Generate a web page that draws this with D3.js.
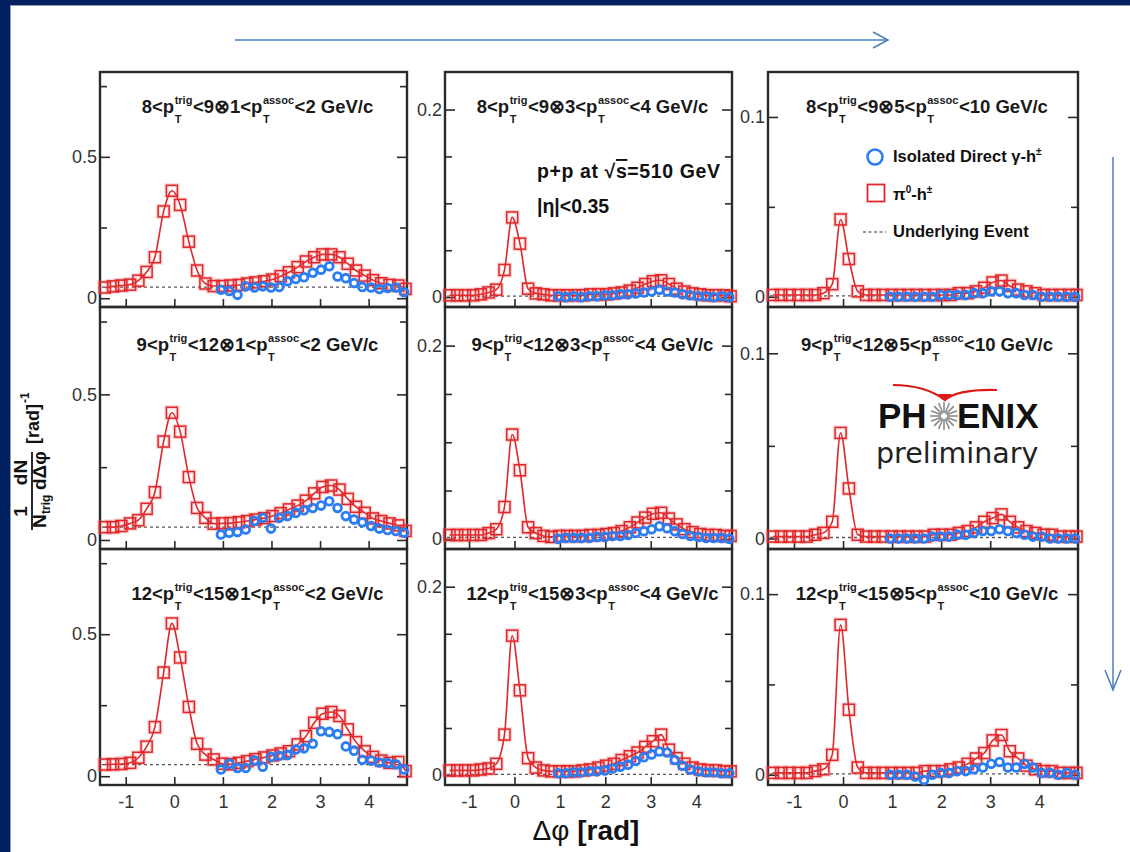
<!DOCTYPE html>
<html><head><meta charset="utf-8">
<script src="https://cdn.jsdelivr.net/npm/d3@7"></script>
<style>
html,body{margin:0;padding:0;background:#fff;}
svg{display:block;}
text{font-family:"Liberation Sans",Arial,Helvetica,sans-serif;white-space:pre;}
</style></head><body>
<svg id="chart" width="1130" height="852"></svg>
<script>
// ---------------- data ----------------
const phiPi0 = [-1.43,-1.26,-1.09,-0.91,-0.74,-0.57,-0.40,-0.22,-0.05,0.12,0.30,0.47,0.64,0.81,0.99,1.16,1.33,1.50,1.67,1.85,2.02,2.19,2.36,2.54,2.71,2.88,3.05,3.23,3.40,3.57,3.74,3.92,4.09,4.26,4.43,4.61,4.76];
const phiGamma = [0.96,1.13,1.30,1.47,1.65,1.82,1.99,2.16,2.33,2.50,2.67,2.85,3.02,3.19,3.36,3.53,3.70,3.87,4.05,4.22,4.39,4.56,4.73];

const pi0_r1c1 = [0.038,0.042,0.045,0.048,0.062,0.093,0.145,0.307,0.380,0.330,0.200,0.098,0.052,0.043,0.043,0.045,0.047,0.052,0.056,0.060,0.066,0.078,0.092,0.110,0.130,0.145,0.155,0.155,0.145,0.122,0.098,0.080,0.064,0.053,0.047,0.045,0.033];
const pi0_r1c2 = [0.002,0.002,0.002,0.002,0.003,0.005,0.008,0.029,0.085,0.057,0.009,0.004,0.003,0.002,0.002,0.002,0.002,0.002,0.003,0.003,0.003,0.004,0.005,0.007,0.010,0.014,0.017,0.018,0.014,0.009,0.006,0.004,0.003,0.002,0.002,0.002,0.001];
const pi0_r1c3 = [0.001,0.001,0.001,0.001,0.001,0.001,0.002,0.007,0.043,0.021,0.003,0.001,0.001,0.001,0.001,0.001,0.001,0.001,0.001,0.001,0.001,0.001,0.002,0.002,0.003,0.005,0.008,0.009,0.006,0.004,0.003,0.002,0.001,0.001,0.001,0.001,0.001];
const pi0_r2c1 = [0.044,0.044,0.048,0.057,0.068,0.107,0.164,0.338,0.437,0.372,0.216,0.110,0.076,0.056,0.057,0.058,0.061,0.065,0.070,0.075,0.082,0.092,0.105,0.118,0.135,0.160,0.182,0.187,0.173,0.141,0.114,0.093,0.074,0.065,0.057,0.050,0.031];
const pi0_r2c2 = [0.004,0.004,0.004,0.004,0.004,0.006,0.010,0.033,0.108,0.071,0.012,0.006,0.003,0.002,0.003,0.003,0.003,0.003,0.004,0.004,0.005,0.006,0.008,0.012,0.017,0.022,0.026,0.027,0.021,0.015,0.010,0.007,0.005,0.004,0.004,0.003,0.003];
const pi0_r2c3 = [0.001,0.001,0.001,0.001,0.001,0.002,0.003,0.009,0.057,0.027,0.002,0.001,0.001,0.001,0.001,0.001,0.001,0.001,0.001,0.002,0.002,0.002,0.003,0.004,0.006,0.009,0.011,0.013,0.009,0.006,0.004,0.003,0.002,0.002,0.001,0.001,0.001];
const pi0_r3c1 = [0.041,0.042,0.043,0.047,0.065,0.104,0.173,0.365,0.538,0.418,0.244,0.114,0.076,0.059,0.044,0.042,0.047,0.053,0.060,0.066,0.073,0.080,0.088,0.112,0.141,0.188,0.220,0.226,0.212,0.165,0.120,0.088,0.068,0.055,0.047,0.050,0.018];
const pi0_r3c2 = [0.005,0.005,0.005,0.005,0.006,0.007,0.012,0.043,0.148,0.090,0.018,0.008,0.005,0.004,0.004,0.004,0.004,0.005,0.006,0.008,0.010,0.012,0.016,0.020,0.024,0.030,0.036,0.043,0.027,0.018,0.012,0.008,0.006,0.005,0.005,0.004,0.004];
const pi0_r3c3 = [0.001,0.001,0.001,0.001,0.001,0.002,0.003,0.011,0.083,0.036,0.004,0.001,0.001,0.001,0.001,0.001,0.001,0.001,0.002,0.002,0.002,0.003,0.004,0.006,0.009,0.012,0.019,0.022,0.013,0.009,0.005,0.003,0.002,0.002,0.001,0.001,0.001];

const gam_r1c1 = [0.030,0.026,0.012,0.042,0.038,0.042,0.038,0.040,0.060,0.068,0.074,0.090,0.101,0.113,0.077,0.071,0.054,0.040,0.038,0.033,0.036,0.038,0.021];
const gam_r1c2 = [0.001,0.000,0.001,0.000,0.001,0.001,0.002,0.002,0.003,0.003,0.004,0.005,0.006,0.008,0.006,0.005,0.003,0.002,0.001,0.001,0.000,0.001,0.000];
const gam_r1c3 = [0.000,0.000,0.000,0.000,0.000,0.000,0.001,0.001,0.001,0.001,0.002,0.002,0.003,0.003,0.002,0.002,0.001,0.001,0.000,0.000,0.000,0.000,0.000];
const gam_r2c1 = [0.019,0.025,0.027,0.036,0.065,0.076,0.039,0.076,0.082,0.093,0.102,0.110,0.118,0.133,0.110,0.082,0.070,0.061,0.048,0.039,0.034,0.031,0.025];
const gam_r2c2 = [0.000,0.001,0.001,0.001,0.001,0.002,0.002,0.003,0.003,0.004,0.006,0.008,0.010,0.013,0.011,0.008,0.005,0.003,0.002,0.001,0.001,0.001,0.000];
const gam_r2c3 = [0.000,0.000,0.000,0.000,0.000,0.001,0.001,0.001,0.002,0.002,0.003,0.004,0.004,0.005,0.004,0.003,0.002,0.001,0.001,0.000,0.000,0.000,0.000];
const gam_r3c1 = [0.024,0.044,0.029,0.029,0.055,0.033,0.068,0.072,0.075,0.094,0.098,0.114,0.158,0.156,0.148,0.105,0.090,0.058,0.055,0.048,0.046,0.042,0.024];
const gam_r3c2 = [0.002,0.002,0.003,0.003,0.004,0.004,0.005,0.007,0.009,0.011,0.015,0.019,0.022,0.025,0.024,0.016,0.010,0.006,0.004,0.003,0.003,0.002,0.002];
const gam_r3c3 = [0.000,0.000,0.000,-0.001,-0.003,0.000,0.001,0.001,0.002,0.002,0.003,0.004,0.006,0.007,0.004,0.004,0.006,0.004,0.001,0.001,0.000,0.001,0.000];

const underlyingEvent = [[0.039,0.001,0.0005],[0.044,0.0015,0.0005],[0.041,0.0008,0.0005]];

const trigLo = ["8","9","12"], trigHi = ["9","12","15"];
const assocLo = ["1","3","5"], assocHi = ["2","4","10"];
const xTicks = [-1,0,1,2,3,4];
const xDomain = [-1.53, 4.79];
const yDomains = [[-0.031,0.80],[-0.0105,0.24],[-0.0057,0.125]];
const yTicks = [[0,0.25,0.5,0.75],[0,0.05,0.1,0.15,0.2],[0,0.05,0.1]];
const yLabeled = [[0,0.5],[0,0.2],[0,0.1]];
const legendLabels = ["Isolated Direct γ-h", "π", "Underlying Event"];

const pi0Grid = [[pi0_r1c1,pi0_r1c2,pi0_r1c3],[pi0_r2c1,pi0_r2c2,pi0_r2c3],[pi0_r3c1,pi0_r3c2,pi0_r3c3]];
const gamGrid = [[gam_r1c1,gam_r1c2,gam_r1c3],[gam_r2c1,gam_r2c2,gam_r2c3],[gam_r3c1,gam_r3c2,gam_r3c3]];

// ---------------- layout ----------------
const RED = "#e0262a", BLUE = "#2a7df2", FRAME = "#2a2a2a", NAVY = "#002060", ARROW = "#4a7ebb";
const cols = [{x0:100,x1:407},{x0:445,x1:732},{x0:768,x1:1078}];
const rows = [{y0:72,y1:307},{y0:307,y1:549},{y0:549,y1:785}];
const titleOff = [41, 44, 51];

const svg = d3.select("#chart");
svg.append("rect").attr("width",1130).attr("height",852).attr("fill","#fff");
svg.append("rect").attr("width",1130).attr("height",5).attr("fill",NAVY);
svg.append("rect").attr("width",10).attr("height",852).attr("fill",NAVY);
svg.append("line").attr("x1",10.5).attr("x2",10.5).attr("y1",5).attr("y2",852).attr("stroke","#8e9cc0").attr("stroke-width",1);
svg.append("line").attr("x1",10).attr("x2",1130).attr("y1",5.5).attr("y2",5.5).attr("stroke","#8e9cc0").attr("stroke-width",1);

function richText(parent, cx, y, parts, o) {
  const grp = parent.append("g");
  let pos = 0;
  parts.forEach(p => {
    if (p.t !== undefined) {
      const el = grp.append("text").attr("x",pos).attr("y",0).attr("font-size",o.size).attr("font-weight",o.weight).attr("fill",o.fill).text(p.t);
      pos += el.node().getComputedTextLength();
    } else {
      let w = 0;
      if (p.sup) { const e = grp.append("text").attr("x",pos+0.5).attr("y",-o.supDy).attr("font-size",o.small).attr("font-weight",o.weight).attr("fill",o.fill).text(p.sup); w = Math.max(w, e.node().getComputedTextLength()+1); }
      if (p.sub) { const e = grp.append("text").attr("x",pos+0.5).attr("y",o.subDy).attr("font-size",o.small).attr("font-weight",o.weight).attr("fill",o.fill).text(p.sub); w = Math.max(w, e.node().getComputedTextLength()+1); }
      pos += w;
    }
  });
  const x0 = o.anchor === "start" ? cx : cx - pos/2;
  grp.attr("transform",`translate(${x0},${y})`);
  return pos;
}

function styleAxis(ax) {
  ax.select(".domain").remove();
  ax.attr("font-size",18);
  ax.selectAll("line").attr("stroke",FRAME).attr("stroke-width",1.6);
  ax.selectAll("text").attr("fill","#333");
}

rows.forEach((R, ri) => cols.forEach((C, ci) => {
  const x = d3.scaleLinear().domain(xDomain).range([C.x0, C.x1]);
  const y = d3.scaleLinear().domain(yDomains[ci]).range([R.y1, R.y0]);
  const g = svg.append("g");
  const lab = yLabeled[ci];

  g.append("rect").attr("x",C.x0).attr("y",R.y0).attr("width",C.x1-C.x0).attr("height",R.y1-R.y0)
    .attr("fill","none").attr("stroke",FRAME).attr("stroke-width",2.4);

  const axL = g.append("g").attr("transform",`translate(${C.x0},0)`)
    .call(d3.axisLeft(y).tickValues(yTicks[ci]).tickSize(-10).tickPadding(3).tickFormat(d => lab.includes(d) ? String(d) : ""));
  styleAxis(axL);
  axL.selectAll(".tick").filter(d => !lab.includes(d)).select("line").attr("x2",7);

  const axR = g.append("g").attr("transform",`translate(${C.x1},0)`)
    .call(d3.axisRight(y).tickValues(yTicks[ci]).tickSize(-10).tickFormat(""));
  styleAxis(axR);
  axR.selectAll(".tick").filter(d => !lab.includes(d)).select("line").attr("x2",-7);

  const axB = g.append("g").attr("transform",`translate(0,${R.y1})`)
    .call(d3.axisBottom(x).tickValues(xTicks).tickSize(-8).tickPadding(10).tickFormat(d => ri === 2 ? String(d) : ""));
  styleAxis(axB);

  // underlying event
  const ue = underlyingEvent[ri][ci];
  g.append("line").attr("x1",x(xDomain[0])+2).attr("x2",x(xDomain[1])-2).attr("y1",y(ue)).attr("y2",y(ue))
    .attr("stroke","#555").attr("stroke-width",1.3).attr("stroke-dasharray","3,3");

  const red = d3.zip(phiPi0, pi0Grid[ri][ci]);
  const blue = d3.zip(phiGamma, gamGrid[ri][ci]);

  g.append("path").datum(red)
    .attr("d", d3.line().x(d => x(d[0])).y(d => y(d[1])).curve(d3.curveMonotoneX))
    .attr("fill","none").attr("stroke",RED).attr("stroke-width",1.6);

  g.selectAll("rect.halo").data(red).join("rect").attr("class","halo")
    .attr("x", d => x(d[0]) - 5.5).attr("y", d => y(d[1]) - 5.5).attr("width",11).attr("height",11)
    .attr("fill","none").attr("stroke","rgba(235,90,90,0.25)").attr("stroke-width",4);
  g.selectAll("rect.sq").data(red).join("rect").attr("class","sq")
    .attr("x", d => x(d[0]) - 5.5).attr("y", d => y(d[1]) - 5.5).attr("width",11).attr("height",11)
    .attr("fill","none").attr("stroke",RED).attr("stroke-width",1.5);

  g.selectAll("circle.ci").data(blue).join("circle").attr("class","ci")
    .attr("cx", d => x(d[0])).attr("cy", d => y(d[1])).attr("r",3.9)
    .attr("fill","none").attr("stroke",BLUE).attr("stroke-width",2.8);

  // panel title
  richText(g, (C.x0 + C.x1)/2 + 4, R.y0 + titleOff[ri],
    [{t: trigLo[ri] + "<p"}, {sup:"trig", sub:"T"}, {t: "<" + trigHi[ri] + "⊗" + assocLo[ci] + "<p"}, {sup:"assoc", sub:"T"}, {t: "<" + assocHi[ci] + " GeV/c"}],
    {size:18.5, small:11, weight:"bold", fill:"#1a1a1a", supDy:9.5, subDy:9.5, anchor:"middle"});
}));

// ---------------- annotations ----------------
const ann = svg.append("g");
ann.append("text").attr("x",537).attr("y",178).attr("font-size",19.5).attr("font-weight","bold").attr("fill","#111").attr("letter-spacing",0.6)
  .html('p+p at √<tspan text-decoration="overline">s</tspan>=510 GeV');
ann.append("text").attr("x",537).attr("y",213).attr("font-size",19.5).attr("font-weight","bold").attr("fill","#111").text("|η|<0.35");

// legend
const lg = svg.append("g");
lg.append("circle").attr("cx",875).attr("cy",157).attr("r",7.5).attr("fill","none").attr("stroke",BLUE).attr("stroke-width",2.6);
lg.append("text").attr("x",893).attr("y",162).attr("font-size",16.5).attr("font-weight","bold").attr("fill","#111")
  .html(legendLabels[0] + '<tspan dy="-7" font-size="10">±</tspan>');
lg.append("rect").attr("x",867.5).attr("y",184.5).attr("width",17).attr("height",17).attr("fill","none").attr("stroke",RED).attr("stroke-width",1.8);
lg.append("text").attr("x",893).attr("y",200).attr("font-size",16.5).attr("font-weight","bold").attr("fill","#111")
  .html(legendLabels[1] + '<tspan dy="-7" font-size="10">0</tspan><tspan dy="7">-h</tspan><tspan dy="-7" font-size="10">±</tspan>');
lg.append("line").attr("x1",863).attr("x2",886).attr("y1",232).attr("y2",232).attr("stroke","#777").attr("stroke-width",1.5).attr("stroke-dasharray","3,2.5");
lg.append("text").attr("x",893).attr("y",237).attr("font-size",16.5).attr("font-weight","bold").attr("fill","#111").text(legendLabels[2]);

// PHENIX logo
const logo = svg.append("g");
logo.append("path").attr("d","M893,385 Q925,385 945,400 Q958,389 997,390").attr("fill","none").attr("stroke","#e01818").attr("stroke-width",2.2);
logo.append("path").attr("d","M938,394 L945,401 L952,394 Z").attr("fill","#e01818");
d3.range(16).forEach(i => {
  const a = i * Math.PI / 8;
  logo.append("line").attr("x1",944 + 3*Math.cos(a)).attr("y1",416 + 3*Math.sin(a))
    .attr("x2",944 + 14*Math.cos(a)).attr("y2",416 + 14*Math.sin(a)).attr("stroke","#8a8a8a").attr("stroke-width",1.6);
});
logo.append("text").attr("x",878).attr("y",428).attr("font-size",35).attr("font-weight","bold").attr("fill","#111").text("PH");
logo.append("text").attr("x",957).attr("y",428).attr("font-size",35).attr("font-weight","bold").attr("fill","#111").text("ENIX");
logo.append("text").attr("x",876).attr("y",463).attr("font-size",28.5).style("font-family","'DejaVu Sans',sans-serif").attr("fill","#222").text("preliminary");

// arrows
svg.append("line").attr("x1",235).attr("x2",888).attr("y1",40).attr("y2",40).attr("stroke",ARROW).attr("stroke-width",1.5);
svg.append("path").attr("d","M873,32 L888,40 L873,48").attr("fill","none").attr("stroke",ARROW).attr("stroke-width",1.5);
svg.append("line").attr("x1",1113).attr("x2",1113).attr("y1",157).attr("y2",690).attr("stroke",ARROW).attr("stroke-width",1.5);
svg.append("path").attr("d","M1105,670 L1113,690 L1121,670").attr("fill","none").attr("stroke",ARROW).attr("stroke-width",1.5);

// axis titles
const yl = svg.append("g").attr("transform","translate(32,533) rotate(-90)").attr("font-weight","bold").attr("fill","#111");
yl.append("text").attr("x",5).attr("y",14).attr("font-size",19).text("N");
yl.append("text").attr("x",19).attr("y",18).attr("font-size",12).text("trig");
yl.append("text").attr("x",43).attr("y",14).attr("font-size",19).text("dΔφ");
yl.append("line").attr("x1",3).attr("x2",81).attr("y1",0).attr("y2",0).attr("stroke","#111").attr("stroke-width",1.8);
yl.append("text").attr("x",21.5).attr("y",-5).attr("font-size",19).attr("text-anchor","middle").text("1");
yl.append("text").attr("x",60.5).attr("y",-5).attr("font-size",19).attr("text-anchor","middle").text("dN");
yl.append("text").attr("x",89).attr("y",7).attr("font-size",18).text("[rad]");
yl.append("text").attr("x",130).attr("y",-3).attr("font-size",12).text("-1");

svg.append("text").attr("x",586).attr("y",840).attr("text-anchor","middle").attr("font-size",28).attr("fill","#111")
  .html('Δφ <tspan font-weight="bold">[rad]</tspan>');
</script>
</body></html>
